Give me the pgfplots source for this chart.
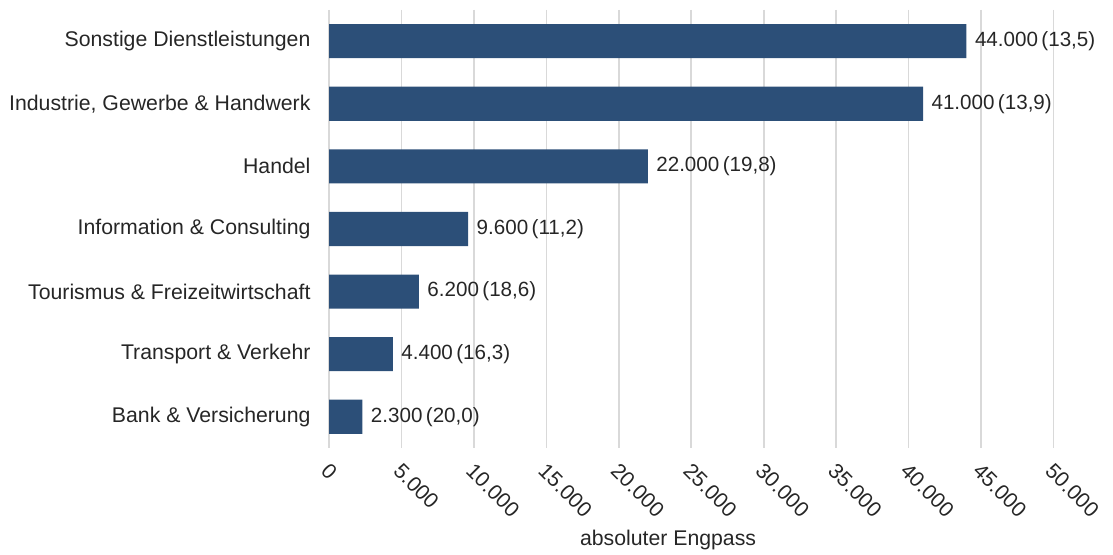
\documentclass[border=0pt]{standalone}
\usepackage{pgfplots}
\pgfplotsset{compat=1.18}
\usepackage{pgfplotstable}
\usepackage{fontspec}
\setmainfont{Liberation Sans}
\definecolor{barblue}{HTML}{2C4F78}
\definecolor{gridgray}{HTML}{D9D9D9}
\definecolor{txt}{HTML}{262626}
\pgfplotstableread[col sep=comma]{
y,val,lab
0,44000,44.000\,(13{,}5)
1,41000,41.000\,(13{,}9)
2,22000,22.000\,(19{,}8)
3,9600,9.600\,(11{,}2)
4,6200,6.200\,(18{,}6)
5,4400,4.400\,(16{,}3)
6,2300,2.300\,(20{,}0)
}\datatable
\begin{document}
\begin{tikzpicture}[font=\fontsize{16.2}{19}\selectfont]
\begin{axis}[
  scale only axis,
  width=552pt, height=334pt,
  xbar, bar width=26pt,
  xmin=0, xmax=50000,
  ymin=-0.5, ymax=6.5,
  y dir=reverse,
  axis line style={draw=none},
  major tick length=0pt,
  xmajorgrids, grid style={gridgray, line width=1.3pt},
  xtick={0,5000,...,50000},
  scaled x ticks=false,
  /pgf/number format/.cd, 1000 sep={.}, min exponent for 1000 sep=3, assume math mode=true,
  /pgfplots/.cd,
  ticklabel style={text=txt},
  xticklabel style={yshift=-9pt, xshift=1pt, rotate=-45, anchor=north west, inner sep=1pt},
  ytick={0,...,6},
  yticklabels={Sonstige Dienstleistungen, {Industrie, Gewerbe \& Handwerk}, Handel, Information \& Consulting, Tourismus \& Freizeitwirtschaft, Transport \& Verkehr, Bank \& Versicherung},
  yticklabel style={inner sep=0pt, xshift=-14pt},
  xlabel={absoluter Engpass},
  xlabel style={at={(ticklabel cs:0.468)}, anchor=north, yshift=-4pt, text=txt},
  nodes near coords,
  point meta=explicit symbolic,
  nodes near coords style={anchor=west, xshift=3pt, text=txt, font=\fontsize{15.7}{19}\selectfont},
]
\addplot[fill=barblue, draw=none] table[x=val, y=y, meta=lab] {\datatable};
\end{axis}
\path (current axis.north) ++(0,7.5pt) coordinate (topmargin);
\path (current bounding box.west) ++(-7pt,0) coordinate (leftmargin);
\path (current bounding box.east) ++(8pt,0) coordinate (rightmargin);
\end{tikzpicture}
\end{document}
